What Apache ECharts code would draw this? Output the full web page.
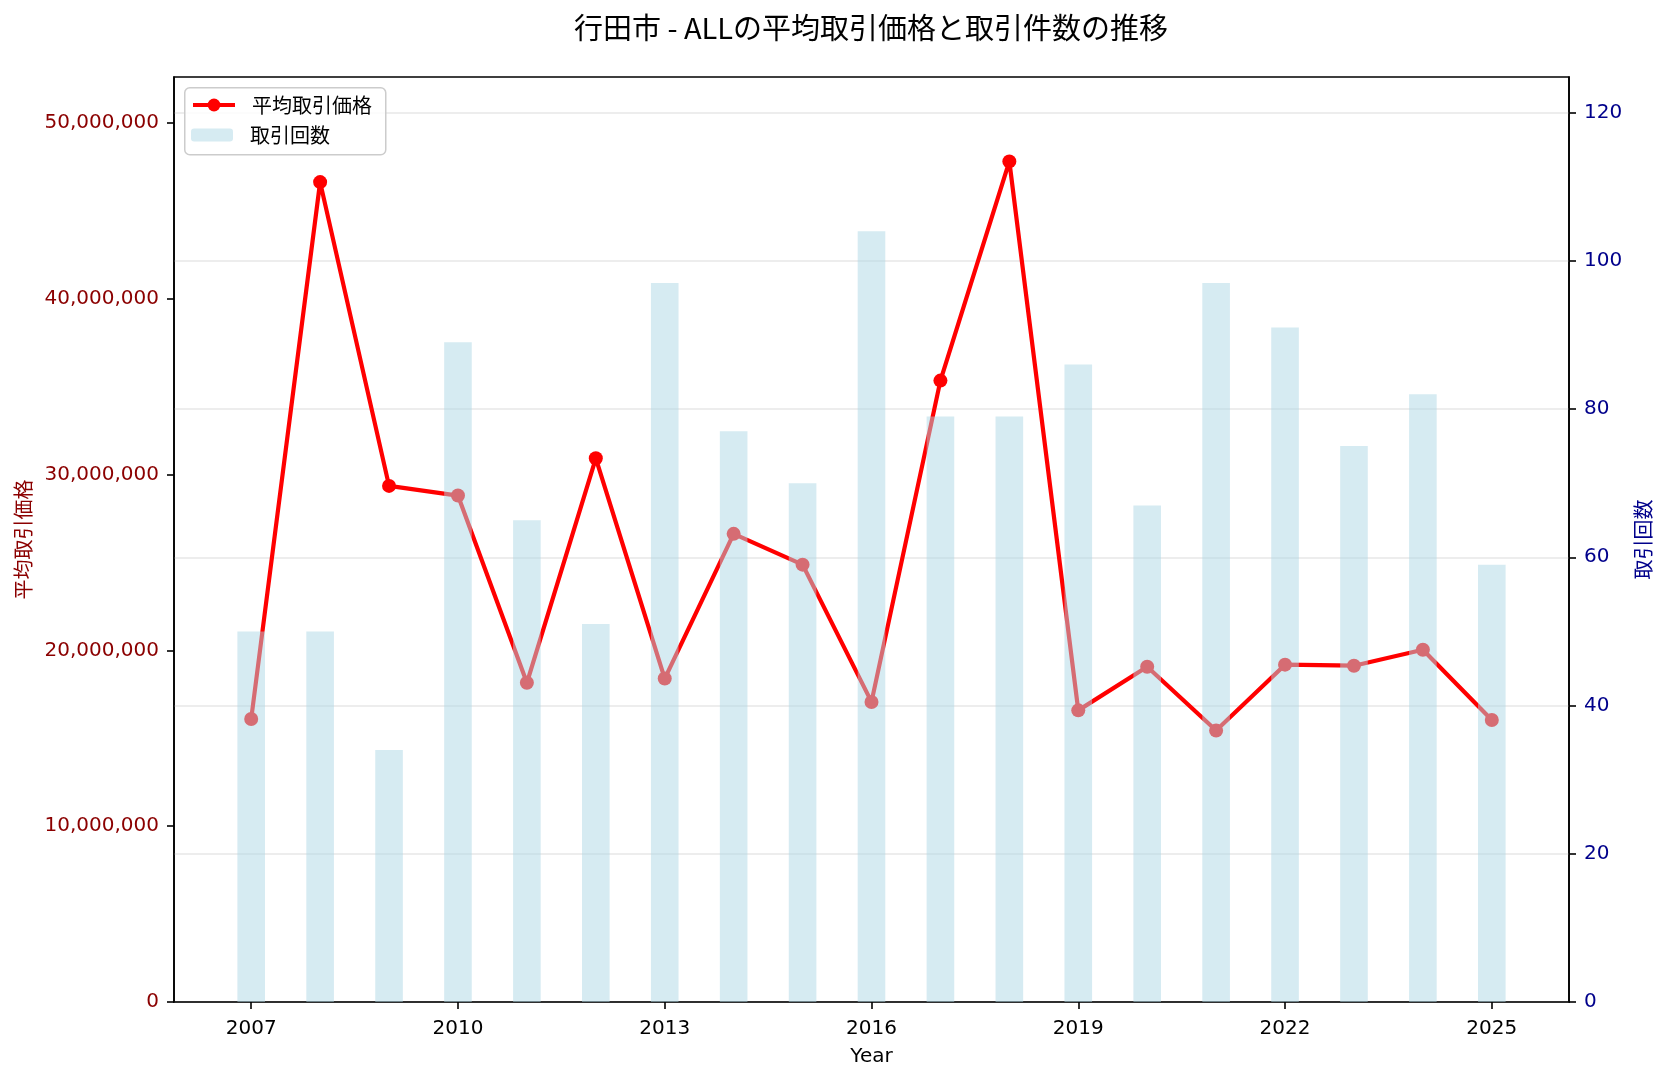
<!DOCTYPE html>
<html>
<head>
<meta charset="utf-8">
<title>行田市 - ALL</title>
<script src="https://cdn.jsdelivr.net/npm/echarts@6/dist/echarts.min.js"></script>
<style>
  html, body { margin: 0; padding: 0; background: #fff; }
  #main { width: 1666px; height: 1079px; }
</style>
</head>
<body>
<div id="main"></div>
<script>
// 年ごとのデータ
const years = [2007, 2008, 2009, 2010, 2011, 2012, 2013, 2014, 2015, 2016,
  2017, 2018, 2019, 2020, 2021, 2022, 2023, 2024, 2025];
// 平均取引価格（円）
const avgPrice = [16100000, 46640000, 29360000, 28810000, 18160000, 30930000, 18400000,
  26630000, 24880000, 17070000, 35350000, 47820000, 16590000, 19070000, 15440000,
  19190000, 19130000, 20040000, 16040000];
// 取引回数
const tradeCount = [50, 50, 34, 89, 65, 51, 97, 77, 70, 104, 79, 79, 86, 67, 97, 91, 75, 82, 59];

// 目盛り
const yearTicks = [2007, 2010, 2013, 2016, 2019, 2022, 2025];
const priceTicks = [0, 10000000, 20000000, 30000000, 40000000, 50000000];
const countTicks = [0, 20, 40, 60, 80, 100, 120];

const FONT = '"Noto Sans CJK JP", sans-serif';
const NUM_FONT = '"DejaVu Sans", "Noto Sans CJK JP", sans-serif';
const PRICE_COLOR = '#8B0000';
const COUNT_COLOR = '#00008B';

let myChart = echarts.init(document.getElementById('main'), null, { renderer: 'canvas' });

function withComma (v) {
  return String(Math.round(v)).replace(/\B(?=(\d{3})+(?!\d))/g, ',');
}

// 凡例の共通設定（枠は graphic で描く）
let legendBase = {
  orient: 'vertical',
  left: 191,
  padding: 0,
  itemWidth: 42,
  textStyle: { fontFamily: FONT, fontSize: 20, color: '#000', padding: [0, 0, 0, 12] }
};

let option = {
  animation: false,
  backgroundColor: '#fff',
  textStyle: { fontFamily: FONT },
  title: {
    text: '行田市 - ALLの平均取引価格と取引件数の推移',
    left: 871,
    top: 13,
    textAlign: 'center',
    padding: 0,
    textStyle: { fontFamily: FONT, fontSize: 29, fontWeight: 'normal', color: '#000' }
  },
  graphic: [
    {
      type: 'rect',
      left: 184,
      top: 87,
      z: 10,
      shape: { width: 201, height: 67, r: 5 },
      style: { fill: 'rgba(255,255,255,0.8)', stroke: '#cccccc', lineWidth: 1.5 }
    }
  ],
  legend: [
    Object.assign({}, legendBase, {
      data: ['平均取引価格'],
      top: 95,
      itemHeight: 16,
      z: 20,
      lineStyle: { width: 4 }
    }),
    Object.assign({}, legendBase, {
      data: ['取引回数'],
      top: 125,
      itemHeight: 13,
      z: 20
    })
  ],
  grid: {
    left: 174,
    right: 97,
    top: 77,
    bottom: 77,
    show: true,
    borderColor: '#000',
    borderWidth: 1.6,
    backgroundColor: 'transparent'
  },
  xAxis: {
    type: 'value',
    min: 2005.88,
    max: 2026.12,
    name: 'Year',
    nameLocation: 'middle',
    nameGap: 45,
    nameTextStyle: { fontFamily: NUM_FONT, fontSize: 20, color: '#000' },
    axisLine: { show: true, lineStyle: { color: '#000', width: 1.6 } },
    axisTick: { show: true, length: 7, lineStyle: { color: '#000', width: 1.6 }, customValues: yearTicks },
    axisLabel: {
      fontFamily: NUM_FONT, fontSize: 20, color: '#000', margin: 17,
      customValues: yearTicks,
      formatter: function (v) { return String(v); }
    },
    splitLine: { show: false }
  },
  yAxis: [
    {
      type: 'value',
      min: 0,
      max: 52620000,
      interval: 10000000,
      position: 'left',
      name: '平均取引価格',
      nameLocation: 'middle',
      nameGap: 141,
      nameTextStyle: { fontFamily: FONT, fontSize: 20, color: PRICE_COLOR },
      axisLine: { show: true, lineStyle: { color: '#000', width: 1.6 } },
      axisTick: { show: true, length: 7, lineStyle: { color: '#000', width: 1.6 }, customValues: priceTicks },
      axisLabel: {
        fontFamily: NUM_FONT, fontSize: 20, color: PRICE_COLOR, margin: 15,
        customValues: priceTicks,
        formatter: withComma
      },
      splitLine: { show: false }
    },
    {
      type: 'value',
      min: 0,
      max: 124.8,
      interval: 20,
      position: 'right',
      name: '取引回数',
      nameLocation: 'middle',
      nameGap: 62,
      nameTextStyle: { fontFamily: FONT, fontSize: 20, color: COUNT_COLOR },
      axisLine: { show: true, lineStyle: { color: '#000', width: 1.6 } },
      axisTick: { show: true, length: 7, lineStyle: { color: '#000', width: 1.6 }, customValues: countTicks },
      axisLabel: { fontFamily: NUM_FONT, fontSize: 20, color: COUNT_COLOR, margin: 15, customValues: countTicks },
      splitLine: { show: true, lineStyle: { color: '#e7e7e7', width: 1.6 } }
    }
  ],
  series: [
    {
      name: '平均取引価格',
      type: 'line',
      yAxisIndex: 0,
      z: 2,
      symbol: 'circle',
      symbolSize: 14,
      lineStyle: { color: '#ff0000', width: 4.2 },
      itemStyle: { color: '#ff0000' },
      data: years.map((y, i) => [y, avgPrice[i]])
    },
    {
      name: '取引回数',
      type: 'bar',
      yAxisIndex: 1,
      z: 3,
      barWidth: 27.6,
      itemStyle: { color: 'rgba(173,216,230,0.5)' },
      data: years.map((y, i) => [y, tradeCount[i]])
    }
  ]
};
myChart.setOption(option);
</script>
</body>
</html>
